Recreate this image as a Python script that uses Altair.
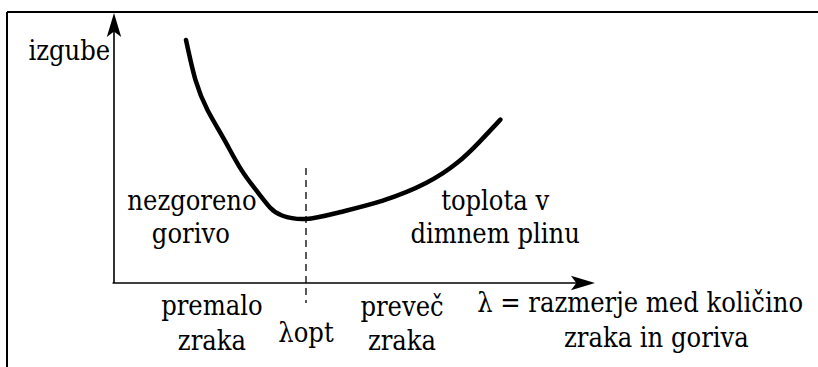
import altair as alt
import pandas as pd

# Losses as a function of the air/fuel ratio (lambda), in axis units
lam = [1.5, 1.7, 1.95, 2.3, 2.65, 3.0, 3.25, 3.5, 4.0, 4.7, 5.6, 6.5, 7.15, 7.6, 8.05]
loss = [9.0, 7.5, 6.4, 5.3, 4.2, 3.35, 2.8, 2.5, 2.37, 2.62, 3.05, 3.7, 4.45, 5.2, 6.05]

lam_opt = 4.0
x_axis_end = 9.8
y_axis_end = 9.75

# Annotation texts and their anchor points (centre, baseline)
label_text = ["izgube", "nezgoreno", "gorivo", "premalo", "zraka", "λopt",
              "preveč", "zraka", "toplota v", "dimnem plinu",
              "λ = razmerje med količino", "zraka in goriva"]
label_x = [-0.93, 1.625, 1.6, 2.04, 2.04, 4.0, 6.0, 6.0, 7.94, 7.94, 10.96, 11.3]
label_y = [8.26, 2.70, 1.48, -1.19, -2.48, -2.19, -1.22, -2.48, 2.70, 1.48, -1.07, -2.37]

W, H = 818, 367
SERIF = "DejaVu Serif Condensed"
xs = alt.Scale(domain=[-2.375, 14.667], nice=False, zero=False)
ys = alt.Scale(domain=[-3.111, 10.481], nice=False, zero=False)

curve_df = pd.DataFrame({"x": lam, "y": loss})
axes_df = pd.DataFrame({"x": [0.0, -0.03], "y": [0.0, 0.0],
                        "x2": [0.0, x_axis_end], "y2": [y_axis_end, 0.0]})
opt_df = pd.DataFrame({"x": [lam_opt], "y": [4.26], "y2": [-0.74]})
labels_df = pd.DataFrame({"t": label_text, "x": label_x, "y": label_y})
arrow_up_df = pd.DataFrame({"x": [0.0], "y": [9.556]})
arrow_right_df = pd.DataFrame({"x": [9.77], "y": [0.0]})

X = lambda f="x": alt.X(f"{f}:Q", scale=xs, axis=None)
Y = lambda f="y": alt.Y(f"{f}:Q", scale=ys, axis=None)

arrow_path = "M0,-1L0.6,1L0,0.55L-0.6,1Z"

curve = alt.Chart(curve_df).mark_line(
    color="black", strokeWidth=4.5, interpolate="natural", strokeCap="round"
).encode(x=X(), y=Y())

axes = alt.Chart(axes_df).mark_rule(color="black", strokeWidth=1.6).encode(
    x=X(), y=Y(), x2="x2:Q", y2="y2:Q")

opt_line = alt.Chart(opt_df).mark_rule(
    color="black", strokeWidth=1.3, strokeDash=[7, 5]
).encode(x=X(), y=Y(), y2="y2:Q")

arrow_up = alt.Chart(arrow_up_df).mark_point(
    shape=arrow_path, size=576, filled=True, color="black", opacity=1, strokeWidth=0
).encode(x=X(), y=Y())

arrow_right = alt.Chart(arrow_right_df).mark_point(
    shape=arrow_path, size=576, angle=90, filled=True, color="black", opacity=1,
    strokeWidth=0
).encode(x=X(), y=Y())

labels = alt.Chart(labels_df).mark_text(
    font=SERIF, fontSize=27, color="black", align="center",
    baseline="alphabetic"
).encode(x=X(), y=Y(), text="t:N")

# page frame: top and left edges
frame_top = alt.Chart(pd.DataFrame({"a": [0]})).mark_rule(
    color="black", strokeWidth=2
).encode(x=alt.value(7), x2=alt.value(W), y=alt.value(12))
frame_left = alt.Chart(pd.DataFrame({"a": [0]})).mark_rule(
    color="black", strokeWidth=2
).encode(x=alt.value(7), y=alt.value(12), y2=alt.value(H))

chart = alt.layer(
    frame_top, frame_left, axes, opt_line, curve, arrow_up, arrow_right, labels
).properties(
    width=W, height=H, autosize=alt.AutoSizeParams(type="none"), padding=0,
    background="white"
).configure_view(stroke=None)

chart.save("out.html", embed_options={"renderer": "svg", "actions": False})
